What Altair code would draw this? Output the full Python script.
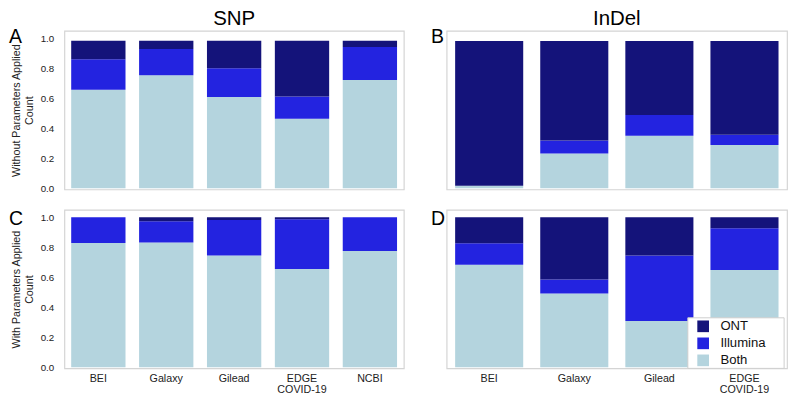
import altair as alt
import pandas as pd

FONT = "Liberation Sans"

types = ["ONT", "Illumina", "Both"]
type_order = {"Both": 0, "Illumina": 1, "ONT": 2}
colors = ["#14137a", "#2323e0", "#b4d4de"]

sources5 = ["BEI", "Galaxy", "Gilead", "EDGE COVID-19", "NCBI"]
sources4 = ["BEI", "Galaxy", "Gilead", "EDGE COVID-19"]

# SNP, without parameters applied
snp_wo_both = [0.658, 0.754, 0.609, 0.464, 0.722]
snp_wo_illumina = [0.203, 0.175, 0.192, 0.149, 0.220]
snp_wo_ont = [0.124, 0.056, 0.184, 0.372, 0.043]

# InDel, without parameters applied
indel_wo_both = [0.017, 0.231, 0.350, 0.288]
indel_wo_illumina = [0.0, 0.087, 0.139, 0.069]
indel_wo_ont = [0.966, 0.665, 0.494, 0.626]

# SNP, with parameters applied
snp_w_both = [0.828, 0.832, 0.746, 0.656, 0.776]
snp_w_illumina = [0.172, 0.142, 0.237, 0.331, 0.224]
snp_w_ont = [0.0, 0.026, 0.017, 0.013, 0.0]

# InDel, with parameters applied
indel_w_both = [0.683, 0.492, 0.309, 0.648]
indel_w_illumina = [0.144, 0.093, 0.436, 0.279]
indel_w_ont = [0.173, 0.415, 0.255, 0.073]


def make_df(sources, both, illumina, ont):
    rows = []
    for i, s in enumerate(sources):
        for t, vals in (("Both", both), ("Illumina", illumina), ("ONT", ont)):
            rows.append({"source": s, "type": t, "value": vals[i], "ord": type_order[t]})
    return pd.DataFrame(rows)


def panel(df, sources, letter, letter_x, letter_y, width, y_title=None,
          show_x=False, title=None, legend=False):
    if show_x:
        xaxis = alt.Axis(
            title=None, labelAngle=0, ticks=False, domain=False,
            labelFontSize=11, labelPadding=4, labelColor="#222",
            labelLineHeight=12,
            labelExpr="datum.label == 'EDGE COVID-19' ? ['EDGE', 'COVID-19'] : datum.label",
        )
    else:
        xaxis = alt.Axis(title=None, labels=False, ticks=False, domain=False)
    if y_title is not None:
        yaxis = alt.Axis(
            title=y_title, values=[0, 0.2, 0.4, 0.6, 0.8, 1.0], format=".1f",
            ticks=False, domain=False, grid=False, labelFontSize=10,
            labelPadding=11, labelColor="#222", titleFontSize=11,
            titleFontWeight="normal", titlePadding=6, titleColor="#222",
        )
    else:
        yaxis = None
    if legend:
        leg = alt.Legend(
            title=None, orient="none", legendX=257, legendY=113, padding=0,
            labelFontSize=13.5, labelColor="#111", symbolType="square",
            symbolSize=144, symbolStrokeWidth=0, rowPadding=2.5, labelOffset=11,
        )
    else:
        leg = None
    bars = alt.Chart(df).mark_bar().encode(
        x=alt.X("source:N", sort=sources, axis=xaxis,
                scale=alt.Scale(paddingInner=0.2, paddingOuter=0.1)),
        y=alt.Y("value:Q", stack="zero", axis=yaxis,
                scale=alt.Scale(domain=[-0.008, 1.05], nice=False, zero=False)),
        color=alt.Color("type:N", scale=alt.Scale(domain=types, range=colors),
                        legend=leg),
        order=alt.Order("ord:Q", sort="ascending"),
    )
    layers = [bars]
    if legend:
        box = alt.Chart(pd.DataFrame({"k": [0]})).mark_rect(
            fill="white", stroke="#cccccc", strokeWidth=1
        ).encode(x=alt.value(248), x2=alt.value(347), y=alt.value(111),
                 y2=alt.value(163))
        layers.append(box)
    lab = alt.Chart(pd.DataFrame({"t": [letter]})).mark_text(
        align="left", baseline="alphabetic", fontSize=20, font=FONT, color="#000"
    ).encode(x=alt.value(letter_x), y=alt.value(letter_y), text="t:N")
    layers.append(lab)
    if title is not None:
        ttl = alt.Chart(pd.DataFrame({"t": [title]})).mark_text(
            align="center", baseline="alphabetic", fontSize=21, font=FONT,
            color="#000"
        ).encode(x=alt.value(width / 2), y=alt.value(-6), text="t:N")
        layers.append(ttl)
    return alt.layer(*layers).properties(width=width, height=163)


A = panel(make_df(sources5, snp_wo_both, snp_wo_illumina, snp_wo_ont), sources5,
          "A", -57, 12, 349, y_title=["Without Parameters Applied", "Count"],
          title="SNP")
B = panel(make_df(sources4, indel_wo_both, indel_wo_illumina, indel_wo_ont), sources4,
          "B", -16, 12, 350, title="InDel")
C = panel(make_df(sources5, snp_w_both, snp_w_illumina, snp_w_ont), sources5,
          "C", -57, 16, 349, y_title=["With Parameters Applied", "Count"], show_x=True)
D = panel(make_df(sources4, indel_w_both, indel_w_illumina, indel_w_ont), sources4,
          "D", -16, 16, 350, show_x=True, legend=True)

top = alt.hconcat(A, B, spacing=26).resolve_legend(color="independent")
bottom = alt.hconcat(C, D, spacing=26).resolve_legend(color="independent")
chart = (
    alt.vconcat(top, bottom, spacing=15)
    .resolve_legend(color="independent")
    .properties(padding={"top": -6, "left": 0, "right": 0, "bottom": 0})
    .configure(font=FONT)
    .configure_view(stroke="#d4d4d4", strokeWidth=1.2)
)

chart.save("out.html", embed_options={"renderer": "svg", "actions": False})
